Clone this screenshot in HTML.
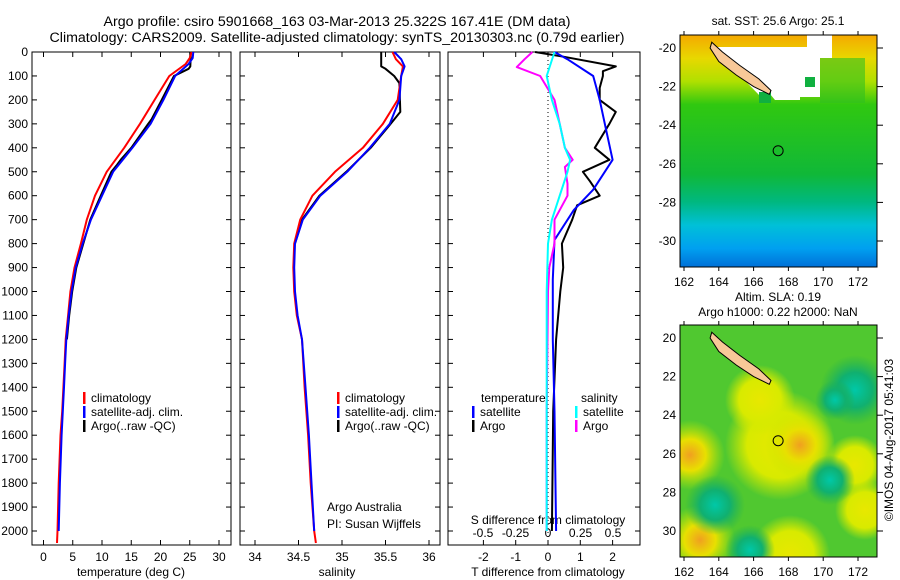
<!DOCTYPE html>
<html><head><meta charset="utf-8"><style>
html,body{margin:0;padding:0;background:#fff;}
svg{display:block;font-family:"Liberation Sans",sans-serif;}
text{fill:#000;}
</style></head><body>
<svg id="fig" width="900" height="580" viewBox="0 0 900 580" xmlns="http://www.w3.org/2000/svg">
<defs>
<linearGradient id="sstg" x1="0" y1="0" x2="0" y2="1">
<stop offset="0" stop-color="#f5a800"/><stop offset="0.1" stop-color="#e8d800"/><stop offset="0.2" stop-color="#b0e000"/>
<stop offset="0.3" stop-color="#30c810"/><stop offset="0.6" stop-color="#10b838"/><stop offset="0.72" stop-color="#00b880"/>
<stop offset="0.82" stop-color="#00c0d8"/><stop offset="0.92" stop-color="#00a0f0"/><stop offset="1" stop-color="#0070d8"/>
</linearGradient>
<radialGradient id="blobY"><stop offset="0" stop-color="#f0a020"/><stop offset="0.45" stop-color="#e8e000"/><stop offset="1" stop-color="#c0e800" stop-opacity="0"/></radialGradient>
<radialGradient id="blobYl"><stop offset="0" stop-color="#e8e800"/><stop offset="0.6" stop-color="#d8ea00"/><stop offset="1" stop-color="#d0e800" stop-opacity="0"/></radialGradient>
<radialGradient id="blobC"><stop offset="0" stop-color="#00c8a8"/><stop offset="0.5" stop-color="#10b070"/><stop offset="1" stop-color="#20b050" stop-opacity="0"/></radialGradient>
<clipPath id="c1"><rect x="680" y="35" width="197" height="232"/></clipPath>
<clipPath id="c2"><rect x="680" y="325" width="197" height="232"/></clipPath>
</defs>
<g id="titles">
<text x="337" y="26" font-size="14.2" text-anchor="middle">Argo profile: csiro 5901668_163 03-Mar-2013 25.322S 167.41E (DM data)</text>
<text x="337" y="42" font-size="14.2" text-anchor="middle">Climatology: CARS2009. Satellite-adjusted climatology: synTS_20130303.nc (0.79d earlier)</text>
</g>
<g id="panels"></g>
<g id="maps"></g>
<text transform="translate(893,440) rotate(-90)" font-size="12" text-anchor="middle">©IMOS 04-Aug-2017 05:41:03</text>
</svg>
<script>
// ---- data ----
const depthTicks=[0,100,200,300,400,500,600,700,800,900,1000,1100,1200,1300,1400,1500,1600,1700,1800,1900,2000];
const tempTicks=[0,5,10,15,20,25,30];
const salTicks=[34,34.5,35,35.5,36];
const salTickLabels=["34","34.5","35","35.5","36"];
const tdTicks=[-2,-1,0,1,2];
const sdTicks=[-0.5,-0.25,0,0.25,0.5];
const sdTickLabels=["-0.5","-0.25","0","0.25","0.5"];

const tempClimDepth=[0,25,50,100,200,300,400,500,600,700,800,900,1000,1100,1200,1300,1400,1500,1600,1800,1900,2000,2050];
const tempClim=[25.3,25.0,24.3,21.5,19.0,16.5,13.8,10.8,8.8,7.4,6.4,5.3,4.6,4.2,3.8,3.6,3.4,3.2,2.9,2.6,2.5,2.4,2.3];
const tempSatDepth=[0,25,50,100,200,300,400,500,600,700,800,900,1000,1100,1200,1300,1400,1500,1600,1800,1900,2000];
const tempSat=[25.6,25.5,24.8,22.5,20.5,18.3,15.2,11.9,10.0,8.1,6.7,5.5,4.8,4.3,3.9,3.7,3.5,3.3,3.1,2.8,2.7,2.6];
const tempArgoDepth=[0,60,70,100,200,280,300,400,450,470,500,600,700,800,900,1000,1100,1200];
const tempArgo=[25.2,25.1,24.8,22.3,20.2,18.5,17.9,15.0,13.2,12.6,11.6,9.8,8.0,6.8,5.6,4.9,4.4,4.0];

const salClimDepth=[0,30,60,100,200,300,400,500,600,700,800,900,1000,1100,1200,1400,1600,1800,2000,2050];
const salClim=[35.58,35.62,35.70,35.68,35.64,35.47,35.24,34.92,34.66,34.52,34.45,34.44,34.45,34.48,34.54,34.57,34.61,34.64,34.68,34.70];
const salSatDepth=[0,30,60,100,200,300,400,500,600,700,800,900,1000,1100,1200,1400,1600,1800,2000];
const salSat=[35.60,35.68,35.72,35.68,35.66,35.55,35.32,35.06,34.75,34.55,34.46,34.45,34.46,34.49,34.54,34.58,34.62,34.65,34.68];
const salArgoDepth=[0,60,70,100,130,250,300,400,500,600,700,800];
const salArgo=[35.45,35.45,35.50,35.60,35.66,35.67,35.56,35.33,35.05,34.74,34.54,34.46];

const tdSatDepth=[0,30,100,200,325,450,575,660,785,950,1200,1500,2000];
const tdSat=[0.2,0.6,1.4,1.6,1.8,2.0,1.4,0.8,0.2,0.15,0.15,0.2,0.25];
const tdArgoDepth=[0,20,60,80,100,150,200,250,300,400,450,500,540,600,640,700,800,900,1000,1200,1500,2000];
const tdArgo=[-0.4,0.5,2.1,1.7,1.7,1.6,1.6,2.1,1.9,1.45,1.9,1.08,1.3,1.6,0.9,0.75,0.43,0.47,0.38,0.25,0.16,0.12];
const sdSatDepth=[0,50,100,200,300,400,450,500,600,700,800,1000,1500,2000];
const sdSat=[0.05,0.02,-0.01,0.03,0.09,0.13,0.17,0.15,0.09,0.03,0.0,-0.01,-0.01,-0.01];
const sdArgoDepth=[0,30,63,100,200,300,400,450,480,550,600,700,800,900,1000,1500,2000];
const sdArgo=[-0.12,-0.18,-0.24,-0.06,0.05,0.09,0.13,0.19,0.13,0.15,0.15,0.05,0.05,0.01,0.0,-0.01,-0.01];

// ---- axes ----
const yTop=52, yPer100=23.95, plotBottom=545;
const yD=d=>yTop+d*yPer100/100;
const xT=t=>43.5+t*5.85;
const xS=s=>255+(s-34)*87;
const xTD=t=>548+t*32.3;
const xSD=s=>548+s*130;
const lonX=l=>684+(l-162)*17.4;
const latY1=l=>48+(-20-l)*19.3;
const latY2=l=>338+(-20-l)*19.3;

const NS="http://www.w3.org/2000/svg";
function mk(tag,parent,attrs){const e=document.createElementNS(NS,tag);for(const k in attrs)e.setAttribute(k,attrs[k]);parent.appendChild(e);return e;}
function txt(parent,x,y,s,size,anchor){const e=mk('text',parent,{x:x,y:y,'font-size':size||12,'text-anchor':anchor||'start'});e.textContent=s;return e;}
const panels=document.getElementById('panels');

function frame(x0,x1,name){
  const g=mk('g',panels,{});
  
  
  const r=mk('rect',g,{x:x0,y:yTop,width:x1-x0,height:plotBottom-yTop,fill:'none',stroke:'#000','stroke-width':1});
  
  
  depthTicks.forEach(d=>{mk('line',g,{x1:x0,x2:x0+5,y1:yD(d),y2:yD(d),stroke:'#000'});mk('line',g,{x1:x1,x2:x1-5,y1:yD(d),y2:yD(d),stroke:'#000'});});
  return g;
}
function xticks(g,ticks,labels,fx,ly){
  ticks.forEach((t,i)=>{const x=fx(t);
    mk('line',g,{x1:x,x2:x,y1:plotBottom,y2:plotBottom-5,stroke:'#000'});
    mk('line',g,{x1:x,x2:x,y1:yTop,y2:yTop+5,stroke:'#000'});
    const e=txt(g,x,ly,labels[i],12,'middle');
    
    });
}
function line(g,depths,vals,fx,color,w,name){
  const pts=depths.map((d,i)=>fx(vals[i]).toFixed(1)+','+yD(d).toFixed(1)).join(' ');
  const p=mk('polyline',g,{points:pts,fill:'none',stroke:color,'stroke-width':w,'stroke-linejoin':'round'});
  
  
}
function legend(g,x,y,items){
  items.forEach((it,i)=>{const yy=y+i*14;
    mk('rect',g,{x:x,y:yy-10,width:2.5,height:12,fill:it[1]});
    const e=txt(g,x+8,yy,it[0],12);
    
    });
}

// panel 1
const g1=frame(32,231,'temperature-panel');
depthTicks.forEach(d=>{const e=txt(g1,28,yD(d)+4,String(d),12,'end');
  
  });
xticks(g1,tempTicks,tempTicks.map(String),xT,561);
let e1=txt(g1,131,576,'temperature (deg C)',12,'middle');


line(g1,tempArgoDepth,tempArgo,xT,'#000',2,'temp-argo-line');
line(g1,tempClimDepth,tempClim,xT,'#f00',2,'temp-climatology-line');
line(g1,tempSatDepth,tempSat,xT,'#00f',2,'temp-satellite-line');
legend(g1,83,402,[['climatology','#f00'],['satellite-adj. clim.','#00f'],['Argo(..raw -QC)','#000']]);

// panel 2
const g2=frame(240,440,'salinity-panel');
xticks(g2,salTicks,salTickLabels,xS,561);
let e2=txt(g2,337,576,'salinity',12,'middle');


line(g2,salArgoDepth,salArgo,xS,'#000',2,'sal-argo-line');
line(g2,salClimDepth,salClim,xS,'#f00',2,'sal-climatology-line');
line(g2,salSatDepth,salSat,xS,'#00f',2,'sal-satellite-line');
legend(g2,337,402,[['climatology','#f00'],['satellite-adj. clim.','#00f'],['Argo(..raw -QC)','#000']]);
txt(g2,327,511,'Argo Australia',12);
txt(g2,327,528,'PI: Susan Wijffels',12);

// panel 3
const g3=frame(448,640,'difference-panel');
mk('line',g3,{x1:548,x2:548,y1:yTop,y2:plotBottom,stroke:'#000','stroke-dasharray':'1,3'});
xticks(g3,tdTicks,tdTicks.map(String),xTD,561);
sdTicks.forEach((s,i)=>{const e=txt(g3,xSD(s),537,sdTickLabels[i],12,'middle');
  
  });
txt(g3,548,524,'S difference from climatology',12,'middle');
let e3=txt(g3,548,576,'T difference from climatology',12,'middle');


line(g3,tdArgoDepth,tdArgo,xTD,'#000',2,'tdiff-argo-line');
line(g3,tdSatDepth,tdSat,xTD,'#00f',2,'tdiff-satellite-line');
line(g3,sdArgoDepth,sdArgo,xSD,'#f0f',2,'sdiff-argo-line');
line(g3,sdSatDepth,sdSat,xSD,'#0ff',2,'sdiff-satellite-line');
txt(g3,481,402,'temperature',12);
legend(g3,472,416,[['satellite','#00f'],['Argo','#000']]);
txt(g3,581,402,'salinity',12);
legend(g3,575,416,[['satellite','#0ff'],['Argo','#f0f']]);

// ---- maps ----
const maps=document.getElementById('maps');
const mapLats=[-20,-22,-24,-26,-28,-30];
const mapLons=[162,164,166,168,170,172];
const islandLon=[163.6,164.2,165.2,166.3,167.0,166.9,166.0,165.0,164.0,163.5];
const islandLat=[-19.7,-20.2,-20.9,-21.6,-22.2,-22.4,-22.0,-21.4,-20.7,-20.0];
function drawMap(top,latY,title,titleY,clip,name,neg,bg){
  const g=mk('g',maps,{});
  
  
  const inner=mk('g',g,{'clip-path':'url(#'+clip+')'});
  bg(inner);
  const pts=islandLon.map((l,i)=>lonX(l).toFixed(1)+','+latY(islandLat[i]).toFixed(1)).join(' ');
  const isl=mk('polygon',inner,{points:pts,fill:'#f8c898',stroke:'#000','stroke-width':1});
  
  
  const c=mk('circle',inner,{cx:lonX(167.41),cy:latY(-25.322),r:5,fill:'none',stroke:'#000'});
  
  
  mk('rect',g,{x:680,y:top,width:197,height:232,fill:'none',stroke:'#000'});
  mapLats.forEach(l=>{const y=latY(l);mk('line',g,{x1:877,x2:883,y1:y,y2:y,stroke:'#000'});
    const e=txt(g,676,y+4,neg?String(l):String(-l),12,'end');
    
    });
  mapLons.forEach(l=>{const x=lonX(l);mk('line',g,{x1:x,x2:x,y1:top,y2:top-4,stroke:'#000'});mk('line',g,{x1:x,x2:x,y1:top+232,y2:top+236,stroke:'#000'});
    const e=txt(g,x,top+251,String(l),12,'middle');
    
    });
  title.forEach((t,i)=>{const e=txt(g,778,titleY+i*15,t,12,'middle');
    
    });
}
drawMap(35,latY1,['sat. SST: 25.6 Argo: 25.1'],25,'c1','sst-map',true,function(p){
  mk('rect',p,{x:680,y:35,width:197,height:232,fill:'url(#sstg)'});
  mk('rect',p,{x:820,y:58,width:45,height:45,fill:'#30c020','fill-opacity':0.6});
  mk('polygon',p,{points:'717,47 807,47 807,35 832,35 832,58 820,58 820,97 800,97 800,100 775,100 770,94 760,96 725,60',fill:'#fff'});
  mk('rect',p,{x:759,y:92,width:12,height:11,fill:'#10b040'});
  mk('rect',p,{x:805,y:77,width:10,height:10,fill:'#10b040'});
});
drawMap(325,latY2,['Altim. SLA: 0.19','Argo h1000: 0.22 h2000: NaN'],301,'c2','sla-map',false,function(p){
  mk('rect',p,{x:680,y:325,width:197,height:232,fill:'#50c830'});
  [[690,455,35,'blobY'],[780,445,55,'blobYl'],[800,445,35,'blobY'],[855,465,30,'blobYl'],[700,540,35,'blobY'],[865,510,30,'blobYl'],[760,400,35,'blobYl'],[790,555,40,'blobYl']].forEach(b=>mk('circle',p,{cx:b[0],cy:b[1],r:b[2],fill:'url(#'+b[3]+')'}));
  [[855,390,35],[715,505,30],[750,550,25],[830,480,25],[835,400,20]].forEach(b=>mk('circle',p,{cx:b[0],cy:b[1],r:b[2],fill:'url(#blobC)'}));
});
</script>
</body></html>
